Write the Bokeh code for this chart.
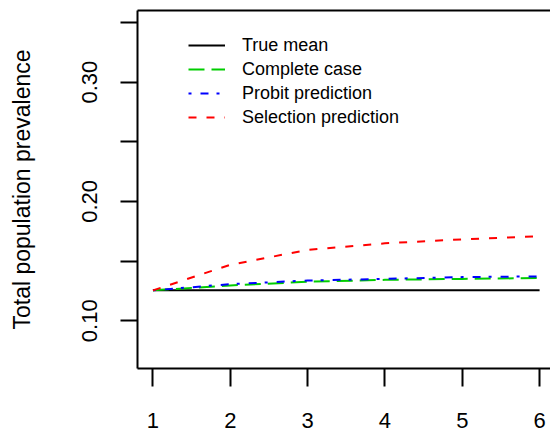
from bokeh.plotting import figure
from bokeh.models import FixedTicker, LinearAxis, Legend, LegendItem, Range1d
from bokeh.embed import file_html
from bokeh.resources import INLINE

# ---- data ----
x_vals = [1, 2, 3, 4, 5, 6]
true_mean = [0.1256, 0.1256, 0.1256, 0.1256, 0.1256, 0.1256]
complete_case = [0.1255, 0.1296, 0.1327, 0.1343, 0.1351, 0.1358]
probit_pred = [0.1255, 0.1307, 0.1337, 0.1351, 0.1366, 0.1372]
selection_pred = [0.1255, 0.1469, 0.1594, 0.1649, 0.1682, 0.1709]

x_ticks = [1, 2, 3, 4, 5, 6]
y_ticks = [0.10, 0.15, 0.20, 0.25, 0.30, 0.35]
y_labels = {0.10: "0.10", 0.15: "", 0.20: "0.20", 0.25: "", 0.30: "0.30", 0.35: ""}

series_names = ["True mean", "Complete case", "Probit prediction", "Selection prediction"]

FONT = "Liberation Sans"

p = figure(width=550, height=433, output_backend="svg", toolbar_location=None,
           x_range=Range1d(0.8, 6.141), y_range=Range1d(0.06, 0.36),
           min_border_left=137, min_border_right=0, min_border_top=10, min_border_bottom=65)
p.outline_line_color = None
p.xgrid.visible = False
p.ygrid.visible = False
p.background_fill_color = "white"
p.border_fill_color = "white"

r_true = p.line(x_vals, true_mean, line_color="black", line_width=2)
r_cc = p.line(x_vals, complete_case, line_color="#00CD00", line_width=2, line_dash="16 7")
r_pr = p.line(x_vals, probit_pred, line_color="#0000FF", line_width=2, line_dash="3 9 8 8")
r_sel = p.line(x_vals, selection_pred, line_color="#FF0000", line_width=2, line_dash="8 10")

# axes
xa = p.xaxis[0]
xa.ticker = FixedTicker(ticks=x_ticks)
xa.axis_line_width = 2
xa.major_tick_line_width = 2
xa.major_tick_out = 18
xa.major_tick_in = 0
xa.minor_tick_line_color = None
xa.major_label_text_font = FONT
xa.major_label_text_font_size = "22px"
xa.major_label_text_color = "black"
xa.major_label_standoff = 26

ya = p.yaxis[0]
ya.ticker = FixedTicker(ticks=y_ticks)
ya.major_label_overrides = y_labels
ya.axis_line_width = 2
ya.major_tick_line_width = 2
ya.major_tick_out = 17
ya.major_tick_in = 0
ya.minor_tick_line_color = None
ya.major_label_orientation = "vertical"
ya.major_label_text_font = FONT
ya.major_label_text_font_size = "22px"
ya.major_label_text_color = "black"
ya.major_label_standoff = 23
ya.axis_label = "Total population prevalence"
ya.axis_label_text_font = FONT
ya.axis_label_text_font_size = "23px"
ya.axis_label_text_font_style = "normal"
ya.axis_label_text_color = "black"
ya.axis_label_standoff = 45

top_axis = LinearAxis(ticker=FixedTicker(ticks=[]), axis_line_width=2,
                      major_tick_out=0, major_tick_in=0, minor_tick_line_color=None,
                      major_label_standoff=0)
p.add_layout(top_axis, "above")

legend = Legend(items=[LegendItem(label=series_names[0], renderers=[r_true]),
                       LegendItem(label=series_names[1], renderers=[r_cc]),
                       LegendItem(label=series_names[2], renderers=[r_pr]),
                       LegendItem(label=series_names[3], renderers=[r_sel])],
                location=(51, 239), border_line_color=None, background_fill_alpha=0,
                padding=0, margin=0, spacing=0, glyph_width=37, glyph_height=24,
                label_height=24, label_standoff=17,
                label_text_font=FONT, label_text_font_size="18px", label_text_color="black")
p.add_layout(legend, "center")

open("out.html", "w").write(file_html(p, INLINE))
